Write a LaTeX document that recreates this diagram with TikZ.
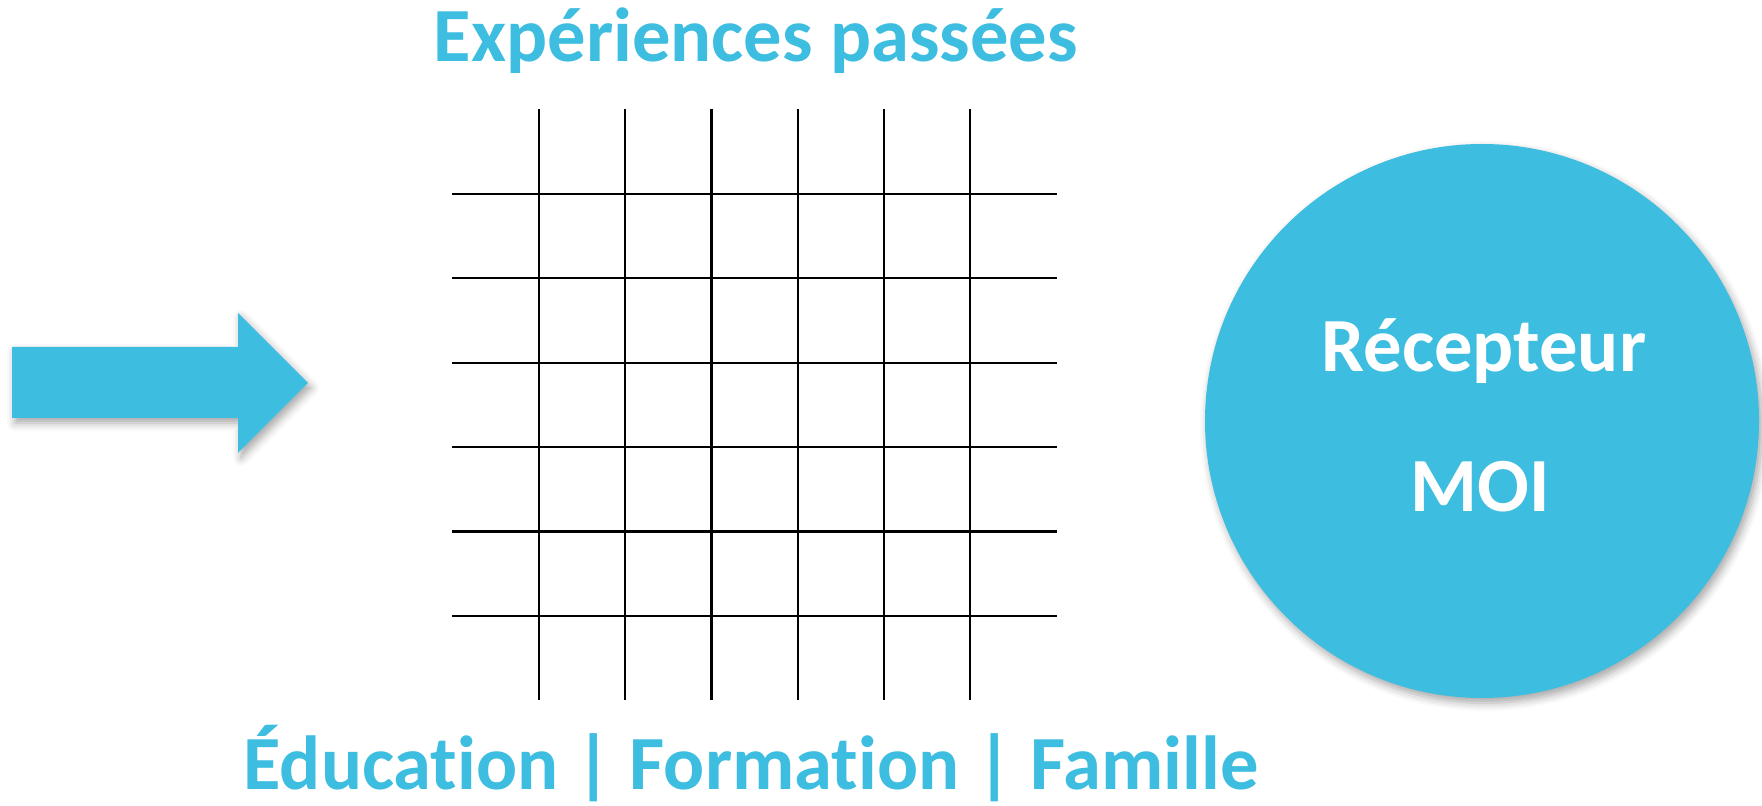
\documentclass[tikz,border=0pt]{standalone}
\usepackage{fontspec}
\setmainfont{Carlito}[Ligatures=NoCommon]
\usetikzlibrary{shadows.blur}

\definecolor{aqua}{HTML}{3DBDDF}
\tikzset{
  big text/.style={font=\bfseries\fontsize{38.3}{40}\selectfont, inner sep=0pt, anchor=base},
  grid line/.style={line width=1.1pt, draw=black},
  soft shadow/.style={blur shadow={shadow xshift=1.5pt, shadow yshift=-2.5pt, shadow blur radius=4pt, shadow opacity=35}},
}

\begin{document}
\begin{tikzpicture}[x=0.5pt,y=-0.5pt]
\useasboundingbox (0,0) rectangle (1762,806);

\pgfmathsetmacro{\gx}{86.2}
\pgfmathsetmacro{\gy}{84.4}

% grid of past experiences
\foreach \i in {0,...,5} {
  \draw[grid line] (539+\i*\gx,109) -- (539+\i*\gx,700);
  \draw[grid line] (452,194+\i*\gy) -- (1057,194+\i*\gy);
}

\fill[aqua, soft shadow] (12,347) -- (238,347) -- (238,313) -- (308,383) -- (238,453) -- (238,418) -- (12,418) -- cycle;

\node[circle, fill=aqua, minimum size=277pt, inner sep=0pt, soft shadow] (moi) at (1482,421) {};
\node[big text, text=white] (recepteur) at (1484,372) {Récepteur};
\node[big text, text=white] (moitext) at (1480,512) {MOI};

\node[big text, text=aqua] (titre) at (756,62) {Expériences passées};
\node[big text, text=aqua] (sources) at (751,789) {Éducation | Formation | Famille};

\end{tikzpicture}
\end{document}
